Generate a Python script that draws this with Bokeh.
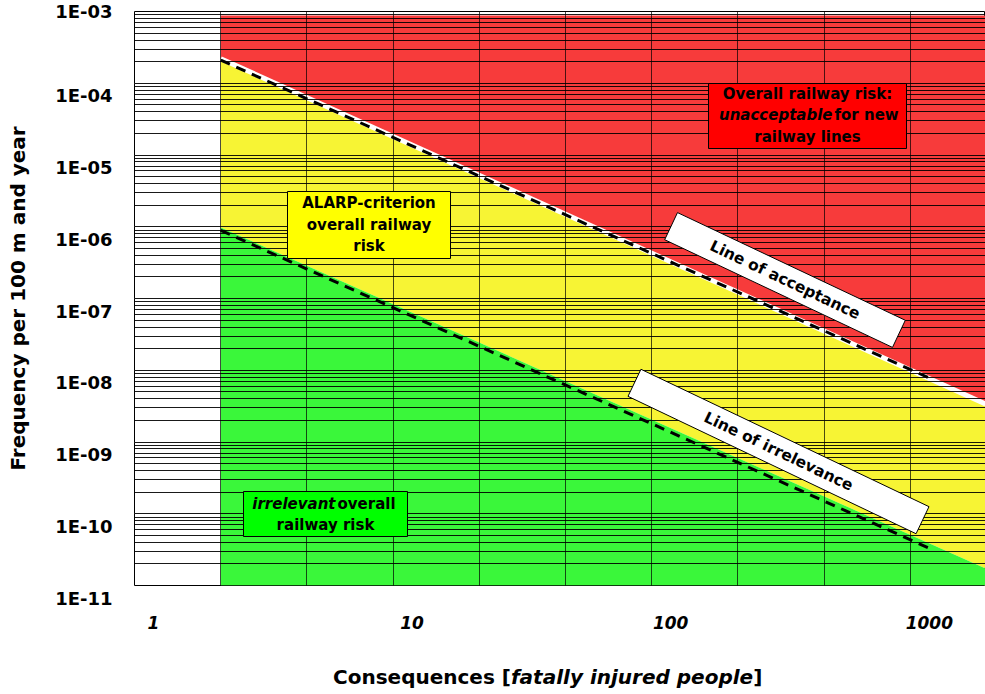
from bokeh.plotting import figure
from bokeh.layouts import column
from bokeh.models import (Range1d, FixedTicker, Grid, BoxAnnotation, Label, LogAxis, Div,
                          CustomJSTickFormatter)
from bokeh.embed import file_html
from bokeh.resources import INLINE

# ---------------- data ----------------
x_ticks = [1, 10, 100, 1000]
x_tick_labels = ["1", "10", "100", "1000"]
y_ticks = [1e-11, 1e-10, 1e-9, 1e-8, 1e-7, 1e-6, 1e-5, 1e-4, 1e-3]
y_tick_labels = ["1E-11", "1E-10", "1E-09", "1E-08", "1E-07", "1E-06", "1E-05", "1E-04", "1E-03"]

zone_N = [1.82, 1650]          # consequences spanned by the coloured zones
accept_f = [2.2e-4, 3.4e-9]    # line of acceptance (red / yellow border)
irrel_f = [9.8e-7, 1.73e-11]   # line of irrelevance (yellow / green border)
red_top_f = [8.8e-4, 8.8e-4]
floor_f = [1e-11, 1e-11]

line_N = [1.82, 1000]              # dashed criterion lines
accept_line_f = [2.1e-4, 7.8e-9]
irrel_line_f = [8.9e-7, 3.3e-11]

# ---------------- geometry helpers (page pixel -> data) ----------------
def nx(px):
    return 10 ** ((px - 153) / 258.6)

def fy(py):
    return 10 ** (-3 - (py - 11) / 71.75)

FONT = "DejaVu Sans"
RED, YELLOW, GREEN = "#F73B3B", "#F7F434", "#3AF73A"
FL, FT, FB = 134, 11, 585   # frame left / top / bottom on the page
PH = 640                    # figure height

p = figure(width=985, height=PH, x_axis_type="log", y_axis_type="log",
           x_range=Range1d(nx(134), nx(985)), y_range=Range1d(1e-11, 1e-3),
           y_axis_location=None, output_backend="svg", toolbar_location=None,
           min_border_left=FL, min_border_right=0, min_border_top=FT,
           min_border_bottom=PH - FB)
p.outline_line_color = "black"
p.outline_line_width = 1
p.outline_line_alpha = 1
p.background_fill_color = "white"
p.border_fill_color = "white"
p.xgrid.visible = False

# zones
p.varea(x=zone_N, y1=accept_f, y2=red_top_f, fill_color=RED)
p.varea(x=zone_N, y1=irrel_f, y2=accept_f, fill_color=YELLOW)
p.varea(x=zone_N, y1=floor_f, y2=irrel_f, fill_color=GREEN)
p.line(x=zone_N, y=accept_f, line_color="white", line_width=5)
p.line(x=line_N, y=accept_line_f, line_color="black", line_width=3, line_dash="10 7")
p.line(x=line_N, y=irrel_line_f, line_color="black", line_width=3, line_dash="10 7")

# grids (drawn over the zones)
vgrid_ticks = [nx(134 + 86.2 * k) for k in range(11)]
minor_y = [m * 10.0 ** k for k in range(-11, -3) for m in range(2, 10)]
p.add_layout(Grid(dimension=0, ticker=FixedTicker(ticks=vgrid_ticks), grid_line_color="black",
                  grid_line_alpha=0.7, level="guide"))
p.add_layout(Grid(dimension=1, ticker=FixedTicker(ticks=y_ticks, minor_ticks=minor_y),
                  grid_line_color="black", grid_line_alpha=0.9,
                  minor_grid_line_color="black", minor_grid_line_alpha=0.9, level="guide"))

# x axis
xa = p.xaxis[0]
xa.ticker = FixedTicker(ticks=x_ticks)
xa.formatter = CustomJSTickFormatter(args=dict(labels=x_tick_labels),
                                     code="return labels[Math.round(Math.log10(tick))];")
xa.axis_line_color = None
xa.major_tick_line_color = None
xa.minor_tick_line_color = None
xa.major_label_standoff = 24
xa.major_label_text_font = FONT
xa.major_label_text_font_style = "bold italic"
xa.major_label_text_font_size = "17px"
xa.major_label_text_color = "black"

# y axis: labels hang half a line below their grid lines, as in the original
ya = LogAxis(ticker=FixedTicker(ticks=y_ticks),
             formatter=CustomJSTickFormatter(
                 args=dict(labels=y_tick_labels),
                 code=("const i = Math.round(Math.log10(tick)) + 11;"
                       "return (i == labels.length - 1 ? '' : '\\n') + labels[i];")),
             axis_label="Frequency per 100 m and year")
ya.axis_line_color = None
ya.major_tick_line_color = None
ya.minor_tick_line_color = None
ya.major_label_standoff = 16
ya.major_label_text_font = FONT
ya.major_label_text_font_style = "bold"
ya.major_label_text_font_size = "18px"
ya.major_label_text_color = "black"
ya.axis_label_standoff = 22
ya.axis_label_text_font = FONT
ya.axis_label_text_font_style = "bold"
ya.axis_label_text_font_size = "20px"
ya.axis_label_text_color = "black"
p.add_layout(ya, "left")

def lab(x, y, text, size="15px", style="bold", align="center", **kw):
    p.add_layout(Label(x=x, y=y, text=text, text_align=align, text_baseline="middle",
                       text_font=FONT, text_font_style=style, text_font_size=size,
                       text_color="black", **kw))

# zone boxes
def box(l, r, t, b, color):
    p.add_layout(BoxAnnotation(left=nx(l), right=nx(r), top=fy(t), bottom=fy(b),
                               fill_color=color, fill_alpha=1, line_color="black",
                               line_width=1, line_alpha=1))

box(708, 906, 83, 148, "#FF0000")
lab(nx(807), fy(93), "Overall railway risk:")
lab(nx(832), fy(114), "unacceptable", style="bold italic", align="right")
lab(nx(834), fy(114), "for new", align="left")
lab(nx(807), fy(136), "railway lines")

box(287, 450, 191, 258, "#FFFF00")
lab(nx(368.5), fy(202), "ALARP-criterion")
lab(nx(368.5), fy(224), "overall railway")
lab(nx(368.5), fy(245), "risk")

box(243, 407, 491, 536, "#00FF00")
lab(nx(335), fy(503), "irrelevant", style="bold italic", align="right")
lab(nx(337), fy(503), "overall", align="left")
lab(nx(325), fy(524), "railway risk")

# rotated line captions
lab(nx(784.5), fy(279.5), "Line of acceptance", size="15.5px", angle=-25.3, angle_units="deg",
    background_fill_color="white", border_line_color="black", padding=(44, 6))
lab(nx(778), fy(451), "Line of irrelevance", size="15.5px", angle=-25.5, angle_units="deg",
    background_fill_color="white", border_line_color="black", padding=(78, 6))

# x axis title (mixed upright / italic), placed under the figure
title = Div(
    text=("<div style=\"margin-left:333px; margin-top:27px; white-space:nowrap; "
          "font-family:'DejaVu Sans'; font-size:20px; font-weight:bold; line-height:20px; "
          "color:black;\">Consequences [<i>fatally injured people</i>]</div>"),
    width=985, height=48, margin=0)

layout = column(p, title, spacing=0)
open("out.html", "w").write(file_html(layout, INLINE))
